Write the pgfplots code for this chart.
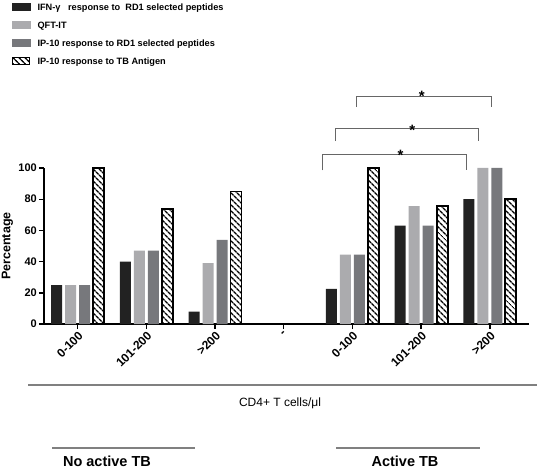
\documentclass[border=0pt]{standalone}
\usepackage{pgfplots}
\pgfplotsset{compat=1.18}
\usepackage{fontspec}
\setmainfont{Liberation Sans}
\usetikzlibrary{patterns.meta}
\definecolor{cblack}{HTML}{222222}
\definecolor{clight}{HTML}{ABABAE}
\definecolor{cmid}{HTML}{77787C}
\definecolor{cbr}{HTML}{666666}
\newcommand{\legext}{\pgfpathmoveto{\pgfqpoint{25pt}{0pt}}\pgfusepath{discard}}
\begin{document}
\begin{tikzpicture}[x=1pt,y=1pt]
\path[use as bounding box] (0,0) rectangle (537,469);
\begin{axis}[
  at={(44pt,145pt)}, anchor=south west,
  scale only axis, width=485pt, height=156pt,
  xmin=-0.49, xmax=6.57, ymin=0, ymax=100,
  clip=false,
  axis x line*=bottom, axis y line*=left,
  axis line style={line width=1.8pt, -, black},
  ybar=3pt, bar width=11pt,
  xtick={0,...,6},
  xticklabels={0-100,101-200,>200,-,0-100,101-200,>200},
  ytick={0,20,...,100},
  tick align=outside, major tick length=5pt,
  tick style={line width=1.4pt, black},
  /pgf/number format/assume math mode=true,
  yticklabel style={font=\bfseries\fontsize{11}{12}\selectfont, inner sep=2pt},
  xticklabel style={font=\bfseries\fontsize{12}{13}\selectfont, rotate=45, anchor=north east, inner sep=1pt},
  ylabel={Percentage},
  ylabel style={font=\bfseries\fontsize{12.5}{14}\selectfont},
  legend style={at={(-0.067,2.07)}, anchor=north west, draw=none, fill=none,
    inner sep=0pt, outer sep=0pt,
    font=\bfseries\fontsize{9.2}{11}\selectfont, row sep=6pt,
    nodes={inner sep=1pt, text height=8pt, text depth=2pt}},
  legend cell align=left,
]
\addplot[fill=cblack, draw=none, legend image code/.code={\fill[cblack] (0pt,-4pt) rectangle (19pt,4pt); \legext}]
  coordinates {(0,25) (1,40) (2,8) (4,22.5) (5,63) (6,80)};
\addlegendentry{IFN-γ\ \ \ response to\ \ RD1 selected peptides}
\addplot[fill=clight, draw=none, legend image code/.code={\fill[clight] (0pt,-4pt) rectangle (19pt,4pt); \legext}]
  coordinates {(0,25) (1,47) (2,39) (4,44.4) (5,75.5) (6,100)};
\addlegendentry{QFT-IT}
\addplot[fill=cmid, draw=none, legend image code/.code={\fill[cmid] (0pt,-4pt) rectangle (19pt,4pt); \legext}]
  coordinates {(0,25) (1,47) (2,54) (4,44.4) (5,63) (6,100)};
\addlegendentry{IP-10 response to RD1 selected peptides}
\addplot[fill=white, draw=black, line width=1.8pt,
  postaction={pattern={Lines[angle=-45,distance=4pt,line width=1.4pt]}},
  legend image code/.code={\draw[black, line width=1.8pt, fill=white, postaction={pattern={Lines[angle=-45,distance=4pt,line width=1.2pt]}}] (1pt,-3.5pt) rectangle (18pt,3.5pt); \legext}]
  coordinates {(0,100) (1,73.5) (2,85) (4,100) (5,75.5) (6,80)};
\addlegendentry{IP-10 response to TB Antigen}
% significance brackets
\addplot[sharp plot, bar shift=0pt, cbr, line width=1pt, forget plot, mark=none]
  coordinates {(3.565,98.5) (3.565,108.8) (5.667,108.8) (5.667,98.5)};
\addplot[sharp plot, bar shift=0pt, cbr, line width=1pt, forget plot, mark=none]
  coordinates {(3.75,117.3) (3.75,125.4) (5.84,125.4) (5.84,117.3)};
\addplot[sharp plot, bar shift=0pt, cbr, line width=1pt, forget plot, mark=none]
  coordinates {(4.06,139) (4.06,146) (6.03,146) (6.03,139)};
\node[anchor=base, font=\bfseries\fontsize{15}{15}\selectfont, inner sep=0pt] at (axis cs:4.70,104.8) {*};
\node[anchor=base, font=\bfseries\fontsize{15}{15}\selectfont, inner sep=0pt] at (axis cs:4.87,121.0) {*};
\node[anchor=base, font=\bfseries\fontsize{15}{15}\selectfont, inner sep=0pt] at (axis cs:5.01,142.5) {*};
\end{axis}
\draw[gray, line width=1.2pt] (28,84) -- (537,84);
\node[font=\fontsize{12}{14}\selectfont] at (280,66) {CD4+ T cells/μl};
\draw[gray, line width=1.2pt] (52,21) -- (195,21);
\draw[gray, line width=1.2pt] (336,21) -- (480,21);
\node[font=\bfseries\fontsize{14.5}{16}\selectfont] at (107,8) {No active TB};
\node[font=\bfseries\fontsize{14.5}{16}\selectfont] at (405,8) {Active TB};
\end{tikzpicture}
\end{document}
